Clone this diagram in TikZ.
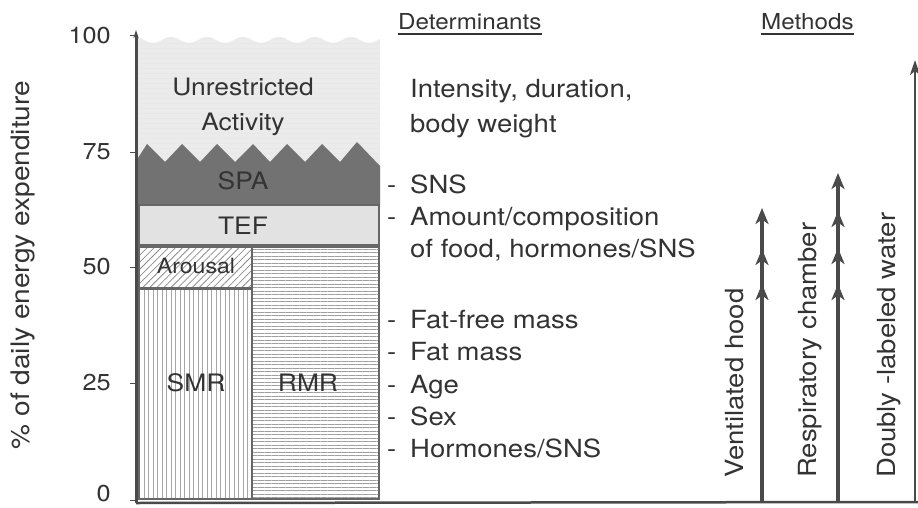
\documentclass[tikz,border=0pt]{standalone}
\usepackage{fontspec}
\setmainfont{TeX Gyre Heros}[FakeStretch=1.1]
\usetikzlibrary{arrows.meta,patterns,patterns.meta}
\definecolor{ink}{HTML}{333333}
\definecolor{lineg}{HTML}{4A4A4A}
\definecolor{barg}{HTML}{666666}
\definecolor{spafill}{HTML}{727272}
\definecolor{teffill}{HTML}{E2E2E2}
\definecolor{uafill}{HTML}{EBEBEB}
\tikzset{
  lbl/.style={text=ink, inner sep=0pt, font=\fontsize{25}{30}\selectfont},
  tick/.style={text=ink, inner sep=0pt, anchor=east, font=\fontsize{23}{28}\selectfont},
  head/.style={text=ink, inner sep=0pt, anchor=base west, font=\fontsize{22}{26}\selectfont},
  item/.style={lbl, anchor=base west},
  meth/.style={lbl, rotate=90, anchor=base west},
  barline/.style={draw=barg, line width=2.2pt},
  marr/.style={draw=lineg, line width=3.2pt, -{Stealth[length=16pt,width=13pt,inset=4.5pt]}},
}
\begin{document}
\begin{tikzpicture}[x=1pt,y=-1pt]
\useasboundingbox (0,0) rectangle (918,508);
% unrestricted activity
\fill[uafill] (138,205) -- (138,42) -- plot[domain=138:380,samples=80] (\x,{40+3*sin(10*\x)}) -- (380,205) -- cycle;
\fill[pattern={Lines[angle=0,distance=5pt,line width=0.6pt]}, pattern color=black!9] (138,205) -- (138,42) -- plot[domain=138:380,samples=80] (\x,{40+3*sin(10*\x)}) -- (380,205) -- cycle;
% SPA
\fill[spafill] (138,205) -- (138,158) -- (147,144) -- (165,162) -- (182,144) -- (200,162) -- (217,144) -- (235,162) -- (253,144) -- (270,162) -- (287,144) -- (305,162) -- (322,144) -- (340,162) -- (357,142) -- (380,166) -- (380,205) -- cycle;
% TEF
\path[barline, fill=teffill] (139,205) rectangle (379,245);
% Arousal
\path[barline, pattern={Lines[angle=45,distance=5pt,line width=0.8pt]}, pattern color=black!45] (139,247) rectangle (252,288);
% SMR
\path[barline, pattern={Lines[angle=90,distance=4.5pt,line width=0.7pt]}, pattern color=black!35] (139,289) rectangle (252,499);
% RMR
\path[barline, pattern={Lines[angle=0,distance=3.5pt,line width=0.6pt]}, pattern color=black!38] (252,247) rectangle (379,499);
% axes
\coordinate (o) at (136,503);
\coordinate (ytop) at (136,30);
\coordinate (xend) at (918,502);
\draw[lineg, line width=3pt, -{Stealth[length=8pt,width=5pt]}] (o) -- (ytop);
\draw[lineg, line width=2.5pt] (o) -- (xend);
\foreach \yy in {36,152,267,383,500} \draw[lineg, line width=1pt] (130,\yy) -- (136,\yy);
% tick labels
\node[tick] (t100) at (111,36) {100};
\node[tick] (t75) at (111,152) {75};
\node[tick] (t50) at (111,267) {50};
\node[tick] (t25) at (111,383) {25};
\node[tick] (t0) at (111,494) {0};
\node[lbl, rotate=90, font=\fontsize{25.5}{30}\selectfont] (ylab) at (23,265) {\% of daily energy expenditure};
% bar labels
\node[lbl, align=center, font=\fontsize{24}{35}\selectfont] (ua) at (243,107) {Unrestricted\\Activity};
\node[lbl, font=\fontsize{24}{30}\selectfont] (spa) at (243,181) {SPA};
\node[lbl, font=\fontsize{24}{30}\selectfont] (tef) at (243,226) {TEF};
\node[lbl, font=\fontsize{21}{26}\selectfont] (aro) at (196,266) {Arousal};
\node[lbl, font=\fontsize{24}{30}\selectfont] (smr) at (196,383) {SMR};
\node[lbl, font=\fontsize{24}{30}\selectfont] (rmr) at (308,383) {RMR};
% headings
\node[head] (det) at (398,30) {Determinants};
\node[head] (meth) at (761,30) {Methods};
\draw[ink, line width=1.2pt] ([yshift=-4pt]det.base west) -- ([yshift=-4pt]det.base east);
\draw[ink, line width=1.2pt] ([yshift=-4pt]meth.base west) -- ([yshift=-4pt]meth.base east);
% determinants
\node[item] (d1) at (410,98) {Intensity, duration,};
\node[item] (d2) at (410,132) {body weight};
\node[item] (d3) at (410,193) {\llap{-\hspace{14pt}}SNS};
\node[item] (d4) at (410,225) {\llap{-\hspace{14pt}}Amount/composition};
\node[item] (d5) at (410,257) {of food, hormones/SNS};
\node[item] (d6) at (410,328) {\llap{-\hspace{14pt}}Fat-free mass};
\node[item] (d7) at (410,360) {\llap{-\hspace{14pt}}Fat mass};
\node[item] (d8) at (410,393) {\llap{-\hspace{14pt}}Age};
\node[item] (d9) at (410,425) {\llap{-\hspace{14pt}}Sex};
\node[item] (d10) at (410,457) {\llap{-\hspace{14pt}}Hormones/SNS};
% methods
\node[meth] (m1) at (743,478) {Ventilated hood};
\node[meth] (m2) at (816,478) {Respiratory chamber};
\node[meth] (m3) at (895,478) {Doubly -labeled water};
\coordinate (v0) at (762,502);
\coordinate (va) at (762,208);
\coordinate (vb) at (762,249);
\coordinate (vc) at (762,284);
\coordinate (r0) at (838,502);
\coordinate (ra) at (838,173);
\coordinate (rb) at (838,211);
\coordinate (rc) at (838,248);
\coordinate (rd) at (838,284);
\coordinate (w0) at (915,502);
\coordinate (wa) at (915,60);
\draw[marr] (v0) -- (vc);
\draw[marr] (v0) -- (vb);
\draw[marr] (v0) -- (va);
\draw[marr] (r0) -- (rd);
\draw[marr] (r0) -- (rc);
\draw[marr] (r0) -- (rb);
\draw[marr] (r0) -- (ra);
\draw[draw=lineg, line width=2.2pt, -{Stealth[length=15pt,width=10pt,inset=4pt]}] (w0) -- (wa);
\end{tikzpicture}
\end{document}
